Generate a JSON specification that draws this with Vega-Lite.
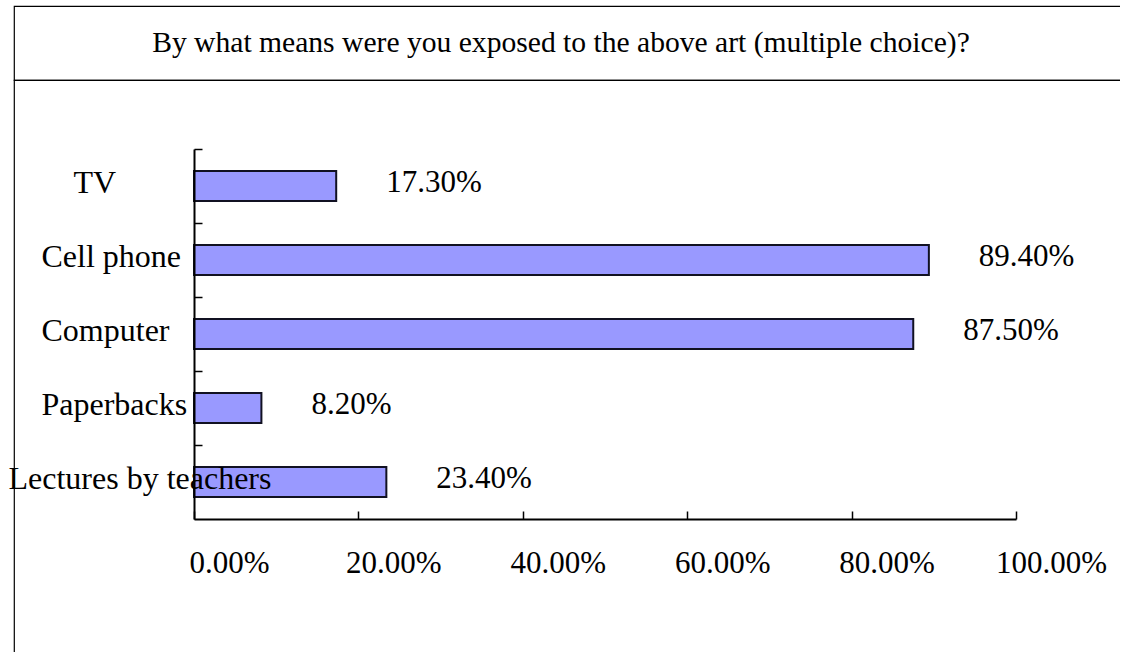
{
  "$schema": "https://vega.github.io/schema/vega-lite/v6.json",
  "padding": {"left": 7, "top": 5, "right": -25, "bottom": -28},
  "spacing": 0,
  "bounds": "flush",
  "background": "#ffffff",
  "config": {
    "font": "Liberation Serif",
    "view": {"stroke": "#000000", "strokeWidth": 1.2},
    "concat": {"spacing": 0}
  },
  "vconcat": [
    {
      "width": 1130,
      "height": 74,
      "view": {"stroke": "#000000", "strokeWidth": 1.2},
      "data": {"values": [{"heading": "By what means were you exposed to the above art (multiple choice)?"}]},
      "mark": {"type": "text", "font": "Liberation Serif", "fontSize": 29.6, "color": "#000000", "baseline": "middle", "dx": -18},
      "encoding": {"text": {"field": "heading"}}
    },
    {
      "width": 1130,
      "height": 600,
      "data": {
        "values": [
          {"means": "TV", "share": 0.173},
          {"means": "Cell phone", "share": 0.894},
          {"means": "Computer", "share": 0.875},
          {"means": "Paperbacks", "share": 0.082},
          {"means": "Lectures by teachers", "share": 0.234}
        ]
      },
      "encoding": {
        "y": {
          "field": "means",
          "type": "nominal",
          "sort": null,
          "scale": {"range": [69, 439], "paddingInner": 0.595, "paddingOuter": 0.2975},
          "axis": {
            "title": null,
            "orient": "left",
            "offset": -180,
            "zindex": 1,
            "grid": false,
            "domainColor": "#000000",
            "domainWidth": 2,
            "ticks": true,
            "bandPosition": 0,
            "tickOffset": -22,
            "tickColor": "#000000",
            "tickSize": -8,
            "tickWidth": 1.5,
            "labelFont": "Liberation Serif",
            "labelFontSize": 32,
            "labelColor": "#000000",
            "labelAlign": "left",
            "labelBaseline": "alphabetic",
            "labelOffset": 28,
            "labelLimit": 0,
            "labelPadding": {
              "condition": [
                {"test": "datum.value === 'TV'", "value": 129},
                {"test": "datum.value === 'Lectures by teachers'", "value": 194}
              ],
              "value": 161
            }
          }
        },
        "x": {
          "field": "share",
          "type": "quantitative",
          "scale": {"domain": [0, 1], "range": [180, 1002], "nice": false},
          "axis": {
            "title": null,
            "orient": "bottom",
            "offset": -161,
            "zindex": 1,
            "grid": false,
            "values": [0, 0.2, 0.4, 0.6, 0.8, 1],
            "format": ".2%",
            "domainColor": "#000000",
            "domainWidth": 2,
            "tickColor": "#000000",
            "tickSize": -8,
            "tickWidth": 1.5,
            "labelFont": "Liberation Serif",
            "labelFontSize": 31,
            "labelColor": "#000000",
            "labelBaseline": "alphabetic",
            "labelPadding": 61,
            "labelOffset": 35,
            "labelFlush": false,
            "labelOverlap": false
          }
        }
      },
      "layer": [
        {"mark": {"type": "bar", "fill": "#9999ff", "stroke": "#111122", "strokeWidth": 2}},
        {
          "mark": {"type": "text", "font": "Liberation Serif", "fontSize": 31, "color": "#000000", "align": "left", "baseline": "alphabetic", "dx": 50, "dy": 6},
          "encoding": {"text": {"field": "share", "format": ".2%"}}
        }
      ]
    }
  ]
}
